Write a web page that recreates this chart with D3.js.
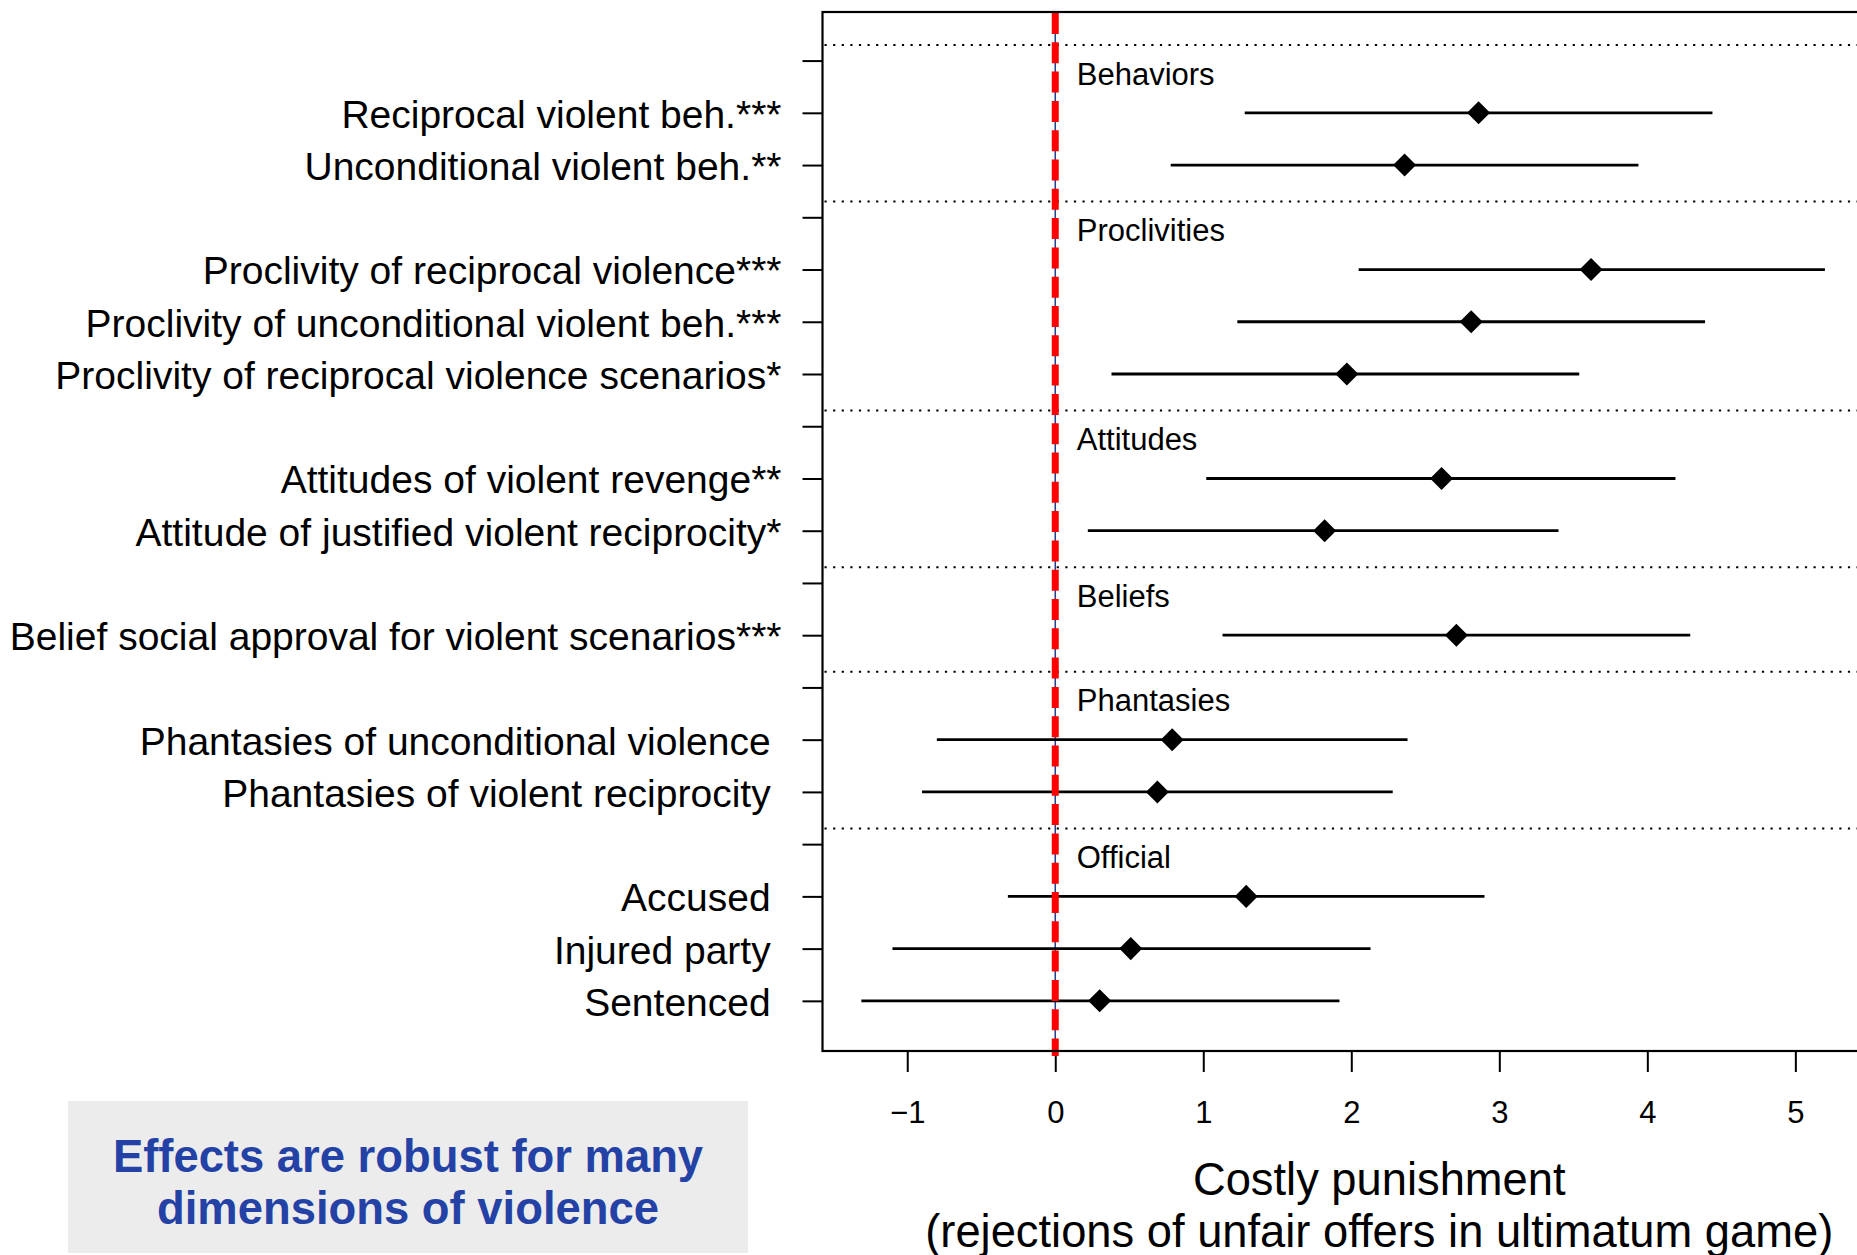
<!DOCTYPE html>
<html lang="en">
<head>
    <meta charset="UTF-8">
    <title>Costly punishment</title>
    <style>
        body{ margin:0; background:#fff; }
        svg{ display:block; font-family:"Liberation Sans", Arial, Helvetica, sans-serif; }
        .yaxis text{ font-size:39px; fill:#000; white-space:pre; }
        .xaxis text{ font-size:31px; fill:#000; }
        .axis line{ stroke:#000; stroke-width:2; }
        .axis path{ display:none; }
        .grp{ font-size:31px; fill:#000; }
        .xlab{ font-size:45.3px; fill:#000; text-anchor:middle; }
        .note{ font-size:45.4px; font-weight:bold; fill:#2442a6; text-anchor:middle; }
    </style>
    <script src="https://cdn.jsdelivr.net/npm/d3@7"></script>
</head>
<body>
<script>
    // rows are numbered from top (0) to bottom (18)
    var groups = ["Behaviors","Proclivities","Attitudes","Beliefs","Phantasies","Official"];
    var groupRows = [0,3,7,10,12,15];

    // labels without stars carry a trailing space, as in the original
    var items = [
        "Reciprocal violent beh.***",
        "Unconditional violent beh.**",
        "Proclivity of reciprocal violence***",
        "Proclivity of unconditional violent beh.***",
        "Proclivity of reciprocal violence scenarios*",
        "Attitudes of violent revenge**",
        "Attitude of justified violent reciprocity*",
        "Belief social approval for violent scenarios***",
        "Phantasies of unconditional violence ",
        "Phantasies of violent reciprocity ",
        "Accused ",
        "Injured party ",
        "Sentenced "
    ];
    var itemRows = [1,2,4,5,6,8,9,11,13,14,16,17,18];
    var estimate = [2.86,2.36,3.62,2.81,1.97,2.61,1.82,2.71,0.79,0.69,1.29,0.51,0.30];
    var lower    = [1.28,0.78,2.05,1.23,0.38,1.02,0.22,1.13,-0.80,-0.90,-0.32,-1.10,-1.31];
    var upper    = [4.44,3.94,5.20,4.39,3.54,4.19,3.40,4.29,2.38,2.28,2.90,2.13,1.92];

    var xTicks = [-1,0,1,2,3,4,5];
    var xTitle = ["Costly punishment","(rejections of unfair offers in ultimatum game)"];
    var note = ["Effects are robust for many","dimensions of violence"];

    var width = 1857;
    var height = 1255;
    var plot = {left:822.5, top:12, right:1933, bottom:1051};

    var svg = d3.select("body")
            .append("svg")
            .attr("width",width)
            .attr("height",height);

    //比例尺
    var xScale = d3.scaleLinear()
            .domain([-1.5725, 5.93])
            .range([plot.left, plot.right]);
    var yScale = d3.scaleLinear()
            .domain([-0.93, 18.96])
            .range([plot.top, plot.bottom]);

    //row label lookup for the y axis
    var rowLabel = {};
    itemRows.forEach(function(r,i){ rowLabel[r] = items[i]; });

    //y轴
    var yAxis = d3.axisLeft(yScale)
            .tickValues(d3.range(19))
            .tickSize(20)
            .tickPadding(21)
            .tickFormat(function(d){ return rowLabel[d] || ""; });
    svg.append("g")
            .attr("class","axis yaxis")
            .attr("transform","translate(" + plot.left + ",0)")
            .call(yAxis)
            .selectAll("text")
            .attr("dy","0.37em")
            .attr("xml:space","preserve");

    //x轴
    var xAxis = d3.axisBottom(xScale)
            .tickValues(xTicks)
            .tickSize(21)
            .tickPadding(29);
    svg.append("g")
            .attr("class","axis xaxis")
            .attr("transform","translate(0," + plot.bottom + ")")
            .call(xAxis);

    //dotted separators between groups
    svg.selectAll(".sep")
            .data(groupRows)
            .enter()
            .append("line")
            .attr("class","sep")
            .attr("x1",plot.left + 2)
            .attr("x2",width)
            .attr("y1",function(d){ return yScale(d - 0.3); })
            .attr("y2",function(d){ return yScale(d - 0.3); })
            .attr("stroke","#000")
            .attr("stroke-width",2)
            .attr("stroke-dasharray","2.2,6.4");

    //group names
    svg.selectAll(".grp")
            .data(groups)
            .enter()
            .append("text")
            .attr("class","grp")
            .attr("x",xScale(0) + 21.5)
            .attr("y",function(d,i){ return yScale(groupRows[i]) + 24; })
            .text(function(d){ return d; });

    //thin zero line underneath the red dashes
    svg.append("line")
            .attr("x1",xScale(0)).attr("x2",xScale(0))
            .attr("y1",plot.top).attr("y2",plot.bottom)
            .attr("stroke","#23408f")
            .attr("stroke-width",1.5);

    //confidence intervals
    svg.selectAll(".ci")
            .data(estimate)
            .enter()
            .append("line")
            .attr("class","ci")
            .attr("x1",function(d,i){ return xScale(lower[i]); })
            .attr("x2",function(d,i){ return xScale(upper[i]); })
            .attr("y1",function(d,i){ return yScale(itemRows[i]); })
            .attr("y2",function(d,i){ return yScale(itemRows[i]); })
            .attr("stroke","#000")
            .attr("stroke-width",2.8);

    //red dashed reference line at 0
    svg.append("line")
            .attr("x1",xScale(0)).attr("x2",xScale(0))
            .attr("y1",plot.top + 1).attr("y2",plot.bottom + 5)
            .attr("stroke","#ff0000")
            .attr("stroke-width",7)
            .attr("stroke-dasharray","21,8.3");

    //point estimates (diamonds)
    var diamond = d3.symbol().type(d3.symbolSquare).size(265);
    svg.selectAll(".pt")
            .data(estimate)
            .enter()
            .append("path")
            .attr("class","pt")
            .attr("d",diamond())
            .attr("fill","#000")
            .attr("transform",function(d,i){
                return "translate(" + xScale(d) + "," + yScale(itemRows[i]) + ") rotate(45)";
            });

    //frame (right side is outside the picture)
    svg.append("rect")
            .attr("x",plot.left)
            .attr("y",plot.top)
            .attr("width",plot.right - plot.left)
            .attr("height",plot.bottom - plot.top)
            .attr("fill","none")
            .attr("stroke","#000")
            .attr("stroke-width",2.2);

    //x axis title
    svg.selectAll(".xlab")
            .data(xTitle)
            .enter()
            .append("text")
            .attr("class","xlab")
            .attr("x",(plot.left + plot.right)/2 + 1.5)
            .attr("y",function(d,i){ return 1195 + i*52; })
            .text(function(d){ return d; });

    //note box
    svg.append("rect")
            .attr("x",68)
            .attr("y",1101)
            .attr("width",680)
            .attr("height",152)
            .attr("fill","#ececec");
    svg.selectAll(".note")
            .data(note)
            .enter()
            .append("text")
            .attr("class","note")
            .attr("x",408)
            .attr("y",function(d,i){ return 1171.5 + i*52.5; })
            .text(function(d){ return d; });
</script>
</body>
</html>
